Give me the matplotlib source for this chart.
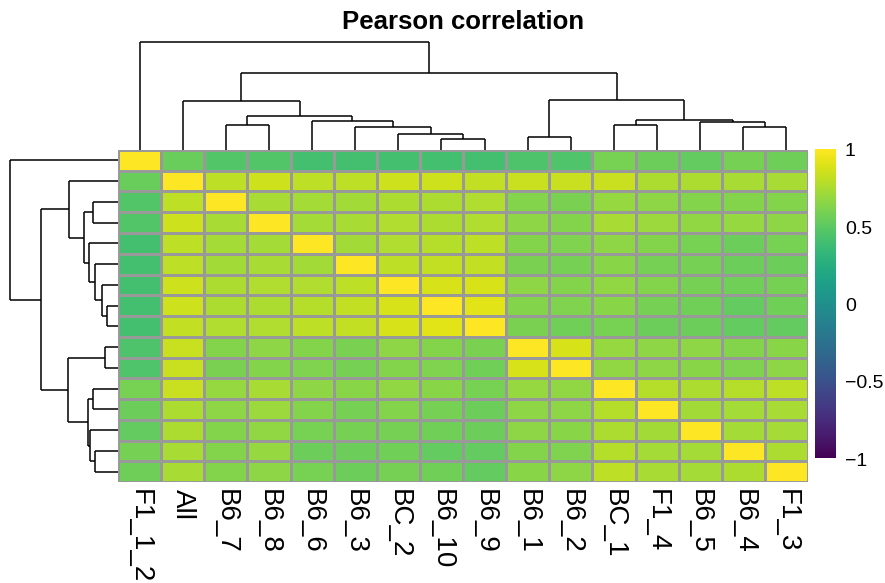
import numpy as np
import matplotlib
matplotlib.use("Agg")
import matplotlib.pyplot as plt
from matplotlib.transforms import blended_transform_factory, offset_copy

plt.rcParams['font.family'] = ['Liberation Sans', 'DejaVu Sans']

labels = ["F1_1_2", "All", "B6_7", "B6_8", "B6_6", "B6_3", "BC_2", "B6_10",
          "B6_9", "B6_1", "B6_2", "BC_1", "F1_4", "B6_5", "B6_4", "F1_3"]

# upper triangle of the correlation matrix, row i holds columns i+1 .. 15
upper = [
    [0.54, 0.46, 0.46, 0.40, 0.40, 0.40, 0.40, 0.40, 0.44, 0.45, 0.59, 0.55, 0.52, 0.58, 0.56],
    [0.80, 0.85, 0.80, 0.80, 0.85, 0.85, 0.82, 0.83, 0.83, 0.83, 0.75, 0.75, 0.74, 0.74],
    [0.74, 0.73, 0.72, 0.75, 0.75, 0.76, 0.63, 0.60, 0.68, 0.66, 0.63, 0.63, 0.63],
    [0.73, 0.74, 0.76, 0.755, 0.76, 0.66, 0.63, 0.735, 0.70, 0.67, 0.68, 0.66],
    [0.72, 0.76, 0.78, 0.80, 0.63, 0.61, 0.66, 0.63, 0.59, 0.55, 0.59],
    [0.80, 0.82, 0.82, 0.60, 0.58, 0.645, 0.58, 0.58, 0.55, 0.55],
    [0.88, 0.88, 0.66, 0.63, 0.67, 0.63, 0.58, 0.565, 0.58],
    [0.91, 0.63, 0.61, 0.645, 0.58, 0.565, 0.52, 0.565],
    [0.60, 0.565, 0.59, 0.55, 0.55, 0.52, 0.52],
    [0.88, 0.68, 0.66, 0.66, 0.63, 0.645],
    [0.67, 0.66, 0.645, 0.615, 0.66],
    [0.78, 0.755, 0.78, 0.80],
    [0.725, 0.73, 0.74],
    [0.73, 0.73],
    [0.75],
]

# hierarchical clustering merges: (child a, child b, height); ids >= 16 are earlier merges
merges = [
    (7, 8, 0.33), (6, 16, 0.48), (5, 17, 0.68), (4, 18, 0.86), (2, 3, 0.76),
    (20, 19, 1.02), (1, 21, 1.48), (9, 10, 0.40), (11, 12, 0.74), (14, 15, 0.69),
    (13, 25, 0.83), (24, 26, 0.90), (23, 27, 1.51), (22, 28, 2.30), (0, 29, 3.23),
]

n = len(labels)
corr = np.eye(n)
for i, row in enumerate(upper):
    for k, v in enumerate(row):
        corr[i, i + 1 + k] = v
        corr[i + 1 + k, i] = v

W, H = 885, 583
fig = plt.figure(figsize=(W / 100, H / 100), dpi=100)

def box(x0, y0, x1, y1):
    return [x0 / W, 1 - y1 / H, (x1 - x0) / W, (y1 - y0) / H]

hx0, hx1, hy0, hy1 = 118, 808, 150, 482

# heatmap
ax = fig.add_axes(box(hx0, hy0, hx1, hy1))
ax.pcolormesh(np.arange(n + 1), np.arange(n + 1), corr, cmap='viridis',
              vmin=-1, vmax=1, edgecolors='#999999', linewidth=1.0)
ax.set_xlim(0, n)
ax.set_ylim(n, 0)
ax.set_xticks(np.arange(n) + 0.5)
ax.set_xticklabels(labels, rotation=270, ha='center', va='top', fontsize=20)
ax.tick_params(axis='x', length=0, pad=5)
ax.set_yticks([])
for s in ax.spines.values():
    s.set_visible(False)

# dendrogram geometry
pos = {i: i + 0.5 for i in range(n)}
hgt = {i: 0.0 for i in range(n)}
segs = []
for m, (a, b, h) in enumerate(merges):
    segs.append(((pos[a], hgt[a]), (pos[a], h)))
    segs.append(((pos[b], hgt[b]), (pos[b], h)))
    segs.append(((pos[a], h), (pos[b], h)))
    pos[n + m] = (pos[a] + pos[b]) / 2
    hgt[n + m] = h
top_h = merges[-1][2]

axt = fig.add_axes(box(hx0, 42, hx1, hy0))
for (x0, y0), (x1, y1) in segs:
    axt.plot([x0, x1], [y0, y1], color='black', lw=1.1, clip_on=False,
             solid_capstyle='butt')
axt.set_xlim(0, n)
axt.set_ylim(0, top_h)
axt.axis('off')

axl = fig.add_axes(box(10, hy0, hx0, hy1))
for (x0, y0), (x1, y1) in segs:
    axl.plot([y0, y1], [x0, x1], color='black', lw=1.1, clip_on=False,
             solid_capstyle='butt')
axl.set_ylim(n, 0)
axl.set_xlim(top_h, 0)
axl.axis('off')

# colour legend
axc = fig.add_axes(box(815, 149, 836, 458))
grad = np.linspace(-1, 1, 256).reshape(-1, 1)
axc.imshow(grad, cmap='viridis', vmin=-1, vmax=1, aspect='auto',
           origin='lower', extent=[0, 1, -1, 1])
axc.axis('off')
tr = blended_transform_factory(fig.transFigure, axc.transData)
tr = offset_copy(tr, fig=fig, y=-3, units='dots')
for v, t in zip([1, 0.5, 0, -0.5, -1], ["1", "0.5", "0", "\u22120.5", "\u22121"]):
    fig.text(845 / W, v, t, transform=tr, va='center', ha='left', fontsize=14)

fig.text((hx0 + hx1) / 2 / W, 1 - 29 / H, "Pearson correlation", ha='center',
         va='baseline', fontsize=18.5, fontweight='bold')

fig.savefig("out.png", dpi=100)
